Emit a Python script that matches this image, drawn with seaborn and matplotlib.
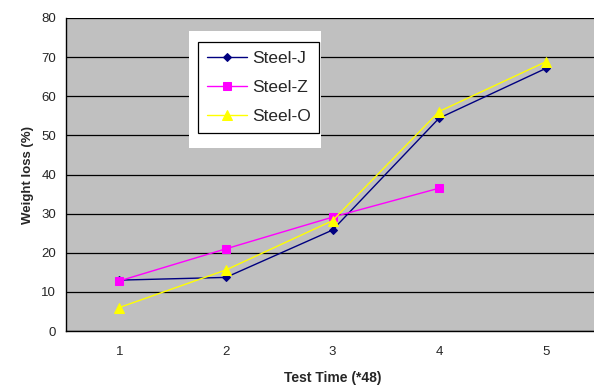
import matplotlib
matplotlib.use("Agg")
import matplotlib.pyplot as plt
import seaborn as sns
import pandas as pd
from matplotlib.patches import Rectangle
from matplotlib.ticker import FixedLocator, NullFormatter

test_time = [1, 2, 3, 4, 5]
steel_j = [13.0, 13.7, 25.8, 54.4, 67.1]
steel_z = [12.8, 21.0, 29.1, 36.5]
steel_o = [6.0, 15.6, 28.2, 56.1, 68.8]
series_names = ["Steel-J", "Steel-Z", "Steel-O"]
y_ticks = [0, 10, 20, 30, 40, 50, 60, 70, 80]

rows = []
for name, vals in zip(series_names, [steel_j, steel_z, steel_o]):
    for t, v in zip(test_time, vals):
        rows.append({"Test Time": t, "Weight loss": v, "Series": name})
df = pd.DataFrame(rows)

sns.set_theme(style="white")
plt.rcParams['font.family'] = ['Liberation Sans', 'DejaVu Sans']

fig = plt.figure(figsize=(5.94, 3.87), dpi=100)
ax = fig.add_axes([66/594, 1 - 331/387, (599-66)/594, (331-18)/387])
ax.set_facecolor("#C0C0C0")

palette = {"Steel-J": "#000080", "Steel-Z": "#FF00FF", "Steel-O": "#FFFF00"}
markers = {"Steel-J": "D", "Steel-Z": "s", "Steel-O": "^"}
sizes = {"Steel-J": 4.5, "Steel-Z": 5.5, "Steel-O": 6.5}
for name in series_names:
    sub = df[df["Series"] == name]
    sns.lineplot(data=sub, x="Test Time", y="Weight loss", ax=ax,
                 color=palette[name], marker=markers[name],
                 markersize=sizes[name], markeredgecolor=palette[name],
                 linewidth=1.0, label=name, zorder=3)

ax.set_ylim(0, 80)
ax.set_xlim(0.5, 5.5)
ax.set_yticks(y_ticks)
ax.set_yticklabels([str(v) for v in y_ticks], fontsize=9.5)
ax.yaxis.grid(True, color="#000000", linewidth=0.9)
ax.xaxis.grid(False)
ax.set_axisbelow(True)

ax.xaxis.set_major_locator(FixedLocator([0.5, 1.5, 2.5, 3.5, 4.5, 5.5]))
ax.xaxis.set_major_formatter(NullFormatter())
ax.xaxis.set_minor_locator(FixedLocator(test_time))
ax.set_xticklabels([str(t) for t in test_time], minor=True, fontsize=9.5)
ax.tick_params(axis="x", which="major", length=5, width=0.9, color="black", direction="out")
ax.tick_params(axis="x", which="minor", length=0, pad=11)
ax.tick_params(axis="y", length=5, width=0.9, color="black", direction="out", pad=2)

for s in ["top", "right"]:
    ax.spines[s].set_visible(False)
for s in ["left", "bottom"]:
    ax.spines[s].set_color("#000000")
    ax.spines[s].set_linewidth(1.0)

ax.set_xlabel("Test Time (*48)", fontsize=10, fontweight="bold", labelpad=9)
ax.set_ylabel("Weight loss (%)", fontsize=9.5, fontweight="bold", labelpad=5)

# white area behind legend
bg = Rectangle((189/594, 1 - 148/387), (321-189)/594, (148-31)/387,
               transform=fig.transFigure, facecolor="white",
               edgecolor="none", zorder=5, clip_on=False)
ax.add_patch(bg)
leg = ax.legend(loc="upper left", bbox_to_anchor=(198/594, 1 - 42/387),
                bbox_transform=fig.transFigure, fontsize=12.5, frameon=True,
                fancybox=False, framealpha=1, edgecolor="black",
                handlelength=2.3, handletextpad=0.3, labelspacing=0.8,
                borderpad=0.5, borderaxespad=0)
leg.get_frame().set_linewidth(0.9)
leg.set_zorder(10)

fig.savefig("out.png", dpi=100)
